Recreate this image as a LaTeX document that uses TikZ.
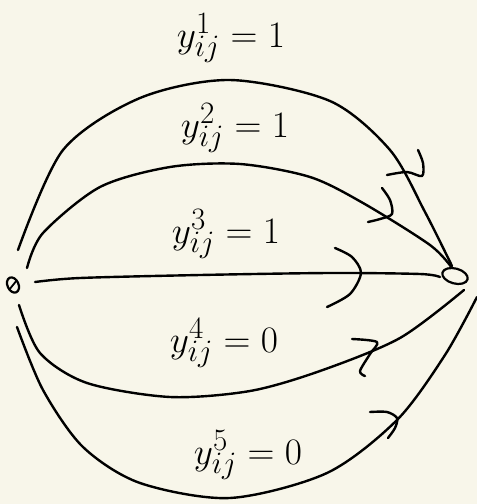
\documentclass[tikz,border=0pt]{standalone}
\usepackage{graphicx}
\usetikzlibrary{shapes.geometric}
\definecolor{paper}{RGB}{248,246,234}
\newcommand{\biglbl}[1]{\scalebox{1.5}{\Huge$#1$}}
\tikzset{
  stroke/.style={line width=2.4pt, line cap=round, line join=round, black},
  arrowmark/.style={stroke},
  lbl/.style={inner sep=0pt},
}
\begin{document}
\begin{tikzpicture}[x=1pt,y=-1pt]
\fill[paper] (0,0) rectangle (477,504);
\useasboundingbox (0,0) rectangle (477,504);

% nodes
\node[ellipse, draw, line width=2.2pt, minimum width=11pt, minimum height=16pt, inner sep=0pt, rotate=25] (L) at (13,285) {};
\draw[line width=1.8pt] ([shift={(-4,5)}]L.center) -- ([shift={(4,-5)}]L.center);
\node[ellipse, draw, line width=2.2pt, minimum width=26pt, minimum height=15pt, inner sep=0pt, rotate=-15] (R) at (455,276) {};

% curve end points
\coordinate (s1) at (18,250); \coordinate (e1) at (452,266);
\coordinate (s2) at (27,268); \coordinate (e2) at (452,268);
\coordinate (s3) at (35,282); \coordinate (e3) at (440,277);
\coordinate (s4) at (19,305); \coordinate (e4) at (464,290);
\coordinate (s5) at (17,327); \coordinate (e5) at (477,297);

% curves
\draw[stroke] plot[smooth] coordinates {(s1) (63,150) (140,98) (230,80) (330,101) (390,150) (425,212) (e1)};
\draw[stroke] plot[smooth] coordinates {(s2) (43,233) (100,187) (170,167) (240,164) (310,177) (363,203) (430,245) (e2)};
\draw[stroke] plot[smooth] coordinates {(s3) (80,278) (200,275) (330,273) (420,274) (e3)};
\draw[stroke] plot[smooth] coordinates {(s4) (40,353) (87,383) (170,397) (250,391) (320,371) (400,338) (e4)};
\draw[stroke] plot[smooth] coordinates {(s5) (43,390) (83,447) (140,483) (230,498) (327,473) (397,420) (445,355) (e5)};

% hand-drawn arrow marks
\draw[arrowmark] plot[smooth] coordinates {(387,175) (407,172) (422,176) (423,163) (418,150)};
\draw[arrowmark] plot[smooth] coordinates {(382,188) (390,200) (392,214) (380,219) (368,222)};
\draw[arrowmark] plot[smooth] coordinates {(335,248) (352,257) (361,273) (350,294) (327,307)};
\draw[arrowmark] plot[smooth] coordinates {(352,339) (377,342) (370,354) (360,371) (365,376)};
\draw[arrowmark] plot[smooth] coordinates {(370,412) (387,412) (397,418) (395,428) (388,438)};

% labels
\node[lbl] (t1) at (231,38) {\biglbl{y^1_{ij}=1}};
\node[lbl] (t2) at (235,128) {\biglbl{y^2_{ij}=1}};
\node[lbl] (t3) at (226,234) {\biglbl{y^3_{ij}=1}};
\node[lbl] (t4) at (224,343) {\biglbl{y^4_{ij}=0}};
\node[lbl] (t5) at (248,455) {\biglbl{y^5_{ij}=0}};
\end{tikzpicture}
\end{document}
